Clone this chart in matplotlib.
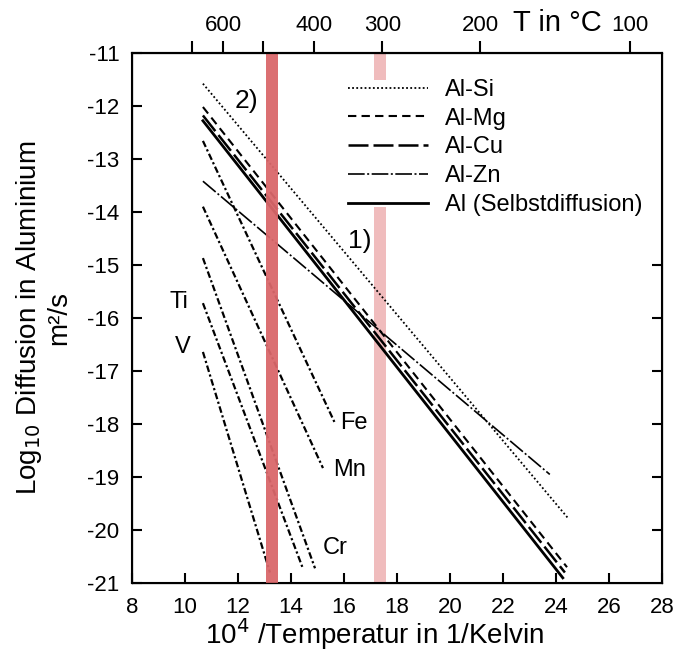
import numpy as np
import matplotlib.pyplot as plt

plt.rcParams['font.family'] = ['Liberation Sans', 'DejaVu Sans']
plt.rcParams['axes.unicode_minus'] = False

# Al alloys: (x_start, y_start, x_end, y_end) in 10^4/T and log10 D
alloy_names = ['Al-Si', 'Al-Mg', 'Al-Cu', 'Al-Zn', 'Al (Selbstdiffusion)']
alloy_x0 = [10.68, 10.68, 10.68, 10.68, 10.68]
alloy_y0 = [-11.58, -12.02, -12.18, -13.42, -12.28]
alloy_x1 = [24.45, 24.42, 24.34, 23.77, 24.26]
alloy_y1 = [-19.77, -20.7, -20.8, -18.95, -20.9]

# transition metals in Al
tm_names = ['Fe', 'Mn', 'Cr', 'Ti', 'V']
tm_x0 = [10.68, 10.68, 10.68, 10.68, 10.68]
tm_y0 = [-12.66, -13.9, -14.87, -15.72, -16.64]
tm_x1 = [15.66, 15.21, 14.91, 14.45, 13.21]
tm_y1 = [-17.98, -18.83, -20.72, -20.72, -20.8]
tm_label_x = [15.85, 15.58, 15.21, 9.43, 9.62]
tm_label_y = [-17.98, -18.87, -20.34, -15.7, -16.55]

# top axis temperatures in degC
temp_major = [600, 400, 300, 200, 100]
temp_minor = [700, 500]

fig = plt.figure(figsize=(6.73, 6.53), dpi=100)
ax = fig.add_axes([0.196, 0.107, 0.7875, 0.812])

# marked temperature bands
ax.axvspan(13.05, 13.53, color='#d9676a', zorder=3, alpha=0.95, lw=0)
ax.axvspan(17.12, 17.57, ymin=0, ymax=0.709, color='#f0bcbd', zorder=1, lw=0)
ax.axvspan(17.12, 17.57, ymin=0.949, ymax=1, color='#f0bcbd', zorder=1, lw=0)

styles = [(0, (1, 1.3)), (0, (4, 2.5)), (0, (8, 2)), (0, (10, 1.5, 1.2, 1.5)), '-']
widths = [1.3, 1.5, 1.8, 1.2, 2.0]
for i in range(len(alloy_names)):
    ax.plot([alloy_x0[i], alloy_x1[i]], [alloy_y0[i], alloy_y1[i]], color='black',
            linestyle=styles[i], lw=widths[i], label=alloy_names[i], zorder=2)

for i in range(len(tm_names)):
    ax.plot([tm_x0[i], tm_x1[i]], [tm_y0[i], tm_y1[i]], color='black',
            linestyle=(0, (3, 1.2, 1, 1.2)), lw=1.6, zorder=2)
    ax.text(tm_label_x[i], tm_label_y[i], tm_names[i], fontsize=17, va='center', ha='left')

ax.text(11.89, -11.9, '2)', fontsize=19, va='center')
ax.text(16.15, -14.55, '1)', fontsize=19, va='center')

ax.legend(loc='upper left', bbox_to_anchor=(0.385, 0.973), frameon=False, fontsize=17,
          handlelength=3.4, handletextpad=0.7, labelspacing=0.285, borderpad=0)

ax.set_xlim(8, 28)
ax.set_ylim(-21, -11)
ax.set_xticks(np.arange(8, 29, 2))
ax.set_yticks(np.arange(-21, -10, 1))
ax.tick_params(direction='in', length=7, width=1.5, labelsize=16, top=True, right=False)
ax.tick_params(axis='y', pad=9)
ax.tick_params(axis='x', pad=10)
for s in ax.spines.values():
    s.set_linewidth(1.5)
ax.set_xlabel('10$^4$ /Temperatur in 1/Kelvin', fontsize=20)
ax.xaxis.set_label_coords(0.458, -0.062)
ax.set_ylabel('Log$_{10}$ Diffusion in Aluminium\nm²/s', fontsize=20, linespacing=1.1)
ax.yaxis.set_label_coords(-0.113, 0.5)

# right-side ticks only in the lower part
rt = ax.twinx()
rt.set_ylim(ax.get_ylim())
rt.set_yticks(np.arange(-20, -14, 1))
rt.tick_params(direction='in', length=7, width=1.5, labelright=False)

# top temperature scale
top = ax.twiny()
top.set_xlim(ax.get_xlim())
top.set_xticks([1e4 / (t + 273.15) for t in temp_major])
top.set_xticklabels([str(t) for t in temp_major])
top.set_xticks([1e4 / (t + 273.15) for t in temp_minor], minor=True)
top.tick_params(which='both', direction='out', length=9, width=1.5, labelsize=16, pad=3)
top.spines['top'].set_linewidth(1.5)
top.text(22.4, 1.03, 'T in °C', transform=top.get_xaxis_transform(), fontsize=21, va='bottom')

fig.savefig('out.png', dpi=100)
